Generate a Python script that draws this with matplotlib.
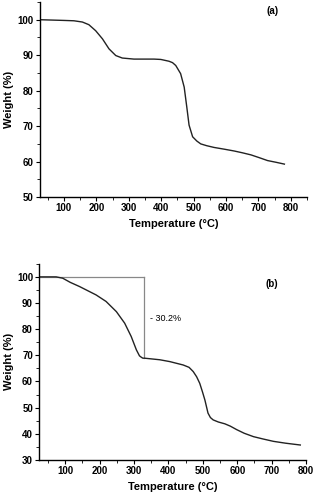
import matplotlib.pyplot as plt
from matplotlib.ticker import MultipleLocator

plt.rcParams['font.family'] = ['Liberation Sans', 'DejaVu Sans']

# (a) TGA curve
temp_a = [26, 100, 131, 157, 177, 198, 219, 239, 260, 280, 316, 378, 399, 414, 424,
          435, 445, 460, 471, 479, 486, 497, 510, 522, 540, 563, 595, 625, 650,
          677, 703, 728, 755, 780]
weight_a = [100.0, 99.8, 99.7, 99.35, 98.6, 96.9, 94.6, 91.8, 89.9, 89.2, 88.9, 88.9,
            88.8, 88.5, 88.3, 87.9, 87.1, 84.8, 81.0, 75.4, 70.3, 67.0, 65.8, 65.0,
            64.5, 64.0, 63.5, 63.0, 62.5, 61.9, 61.1, 60.3, 59.8, 59.3]

# (b) TGA curve
temp_b = [23, 74, 93, 115, 142, 166, 190, 219, 249, 273, 292, 307, 316, 322, 326,
          331, 375, 404, 443, 460, 472, 482, 491, 499, 506, 515, 522, 530, 545,
          564, 580, 598, 620, 647, 675, 705, 740, 783]
weight_b = [100.0, 100.0, 99.5, 97.9, 96.3, 94.7, 93.1, 90.6, 86.7, 82.3, 77.2, 72.1,
            69.8, 69.2, 68.9, 68.9, 68.3, 67.6, 66.3, 65.4, 63.8, 61.8, 59.3, 56.0,
            52.9, 47.9, 46.2, 45.3, 44.5, 43.8, 42.9, 41.6, 40.2, 38.9, 38.0, 37.1,
            36.4, 35.7]

step_temp = 329
step_top = 100
step_bottom = 69
step_label = "- 30.2%"

fig = plt.figure(figsize=(3.14, 4.94), dpi=100)
ax1 = fig.add_axes([0.126, 0.601, 0.852, 0.395])
ax2 = fig.add_axes([0.125, 0.069, 0.850, 0.397])


def style(ax, ylim, xlim):
    ax.set_xlim(*xlim)
    ax.set_ylim(*ylim)
    for s in ["top", "right"]:
        ax.spines[s].set_visible(False)
    for s in ["left", "bottom"]:
        ax.spines[s].set_linewidth(1.0)
    ax.xaxis.set_major_locator(MultipleLocator(100))
    ax.xaxis.set_minor_locator(MultipleLocator(50))
    ax.yaxis.set_major_locator(MultipleLocator(10))
    ax.yaxis.set_minor_locator(MultipleLocator(5))
    ax.tick_params(which="major", direction="out", length=3, width=0.8,
                   labelsize=7, pad=1.5)
    ax.tick_params(which="minor", direction="out", length=2, width=0.6)
    ax.set_xlabel("Temperature (°C)", fontsize=8, fontweight="bold", labelpad=4)
    ax.set_ylabel("Weight (%)", fontsize=8, fontweight="bold", labelpad=2)


ax1.plot(temp_a, weight_a, color="#222222", lw=1.0)
style(ax1, (50, 105), (25, 850))
ax1.set_xticks([100, 200, 300, 400, 500, 600, 700, 800])
ax1.text(744, 102.5, "(a)", fontsize=7, fontweight="bold", ha="center", va="center")

ax2.plot([25, step_temp], [step_top, step_top], color="#888888", lw=0.9)
ax2.plot([step_temp, step_temp], [step_top, step_bottom], color="#888888", lw=0.9)
ax2.plot(temp_b, weight_b, color="#222222", lw=1.0)
style(ax2, (30, 105), (25, 800))
ax2.text(346, 84.2, step_label, fontsize=6.5, ha="left", va="center")
ax2.text(700, 97.3, "(b)", fontsize=7, fontweight="bold", ha="center", va="center")

for ax in (ax1, ax2):
    for lab in ax.get_xticklabels() + ax.get_yticklabels():
        lab.set_fontweight("bold")

fig.savefig("out.png", dpi=100)
